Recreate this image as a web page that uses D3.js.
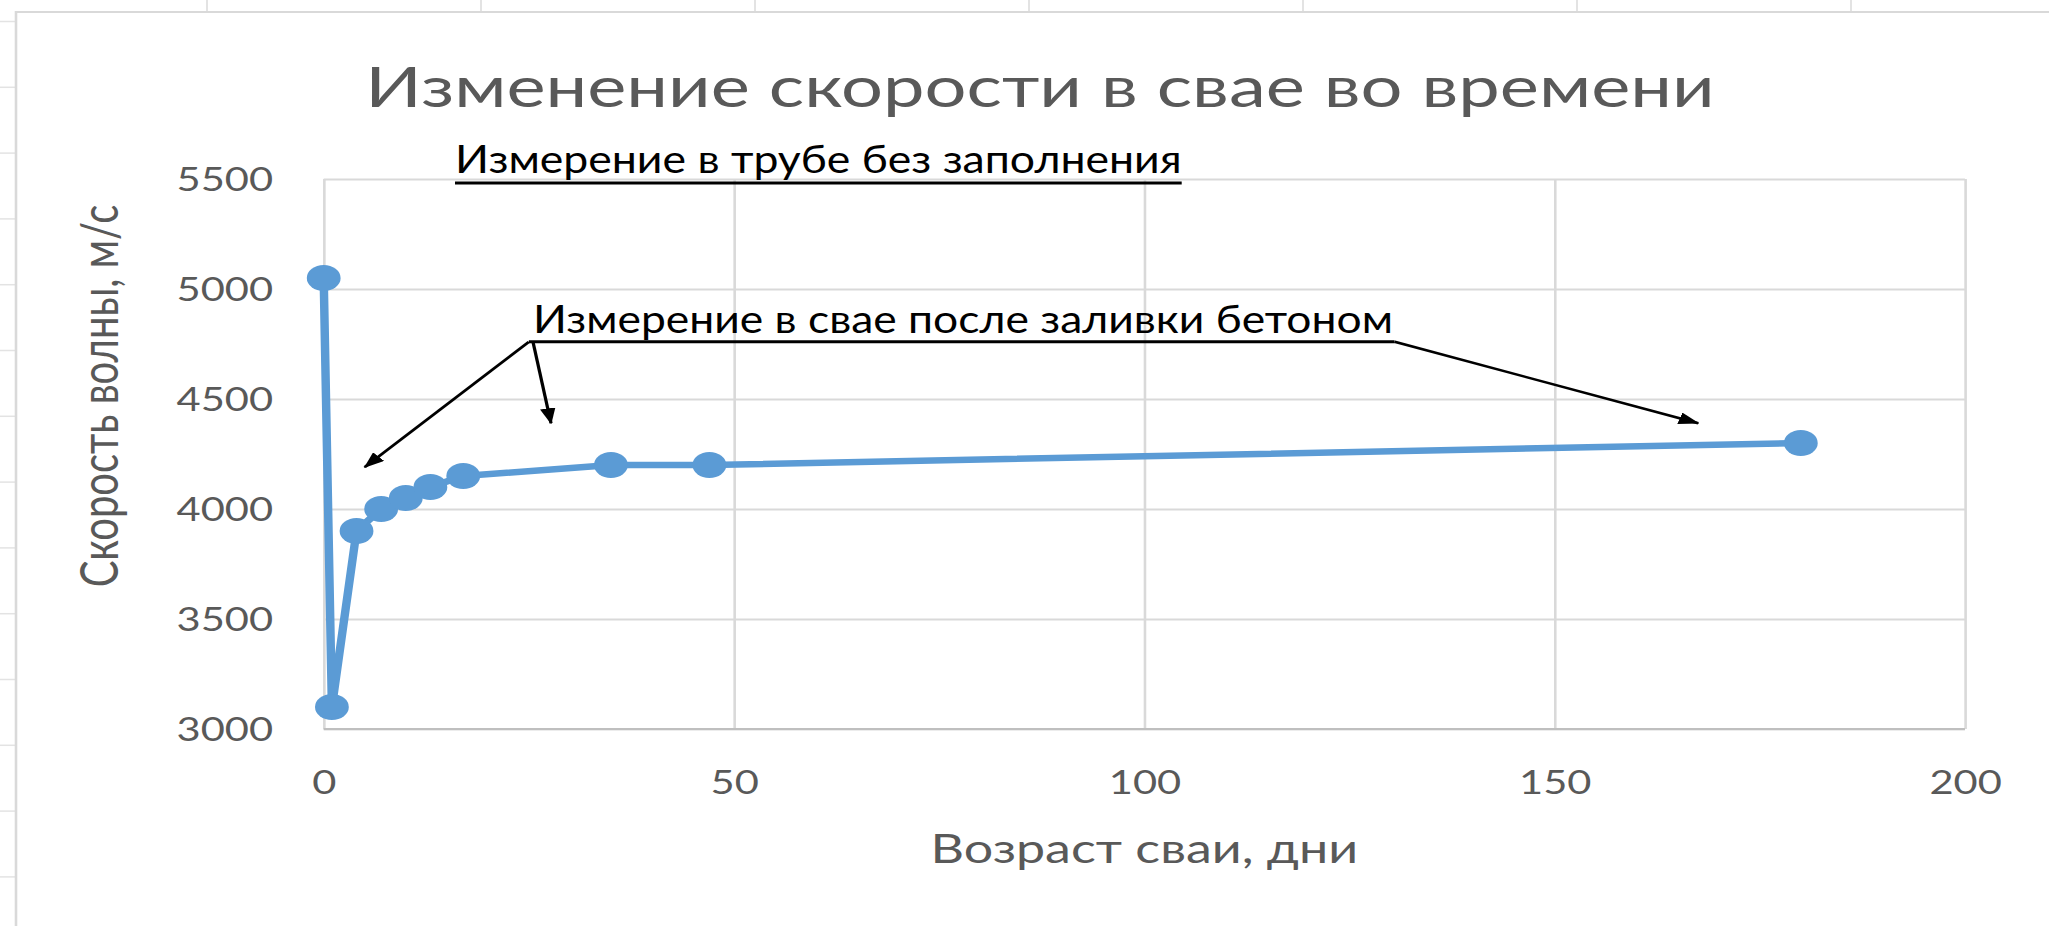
<!DOCTYPE html>
<html>
<head>
<meta charset="utf-8">
<script src="https://cdn.jsdelivr.net/npm/d3@7"></script>
<style>
  html, body { margin: 0; padding: 0; background: #fff; overflow: hidden; }
  svg { display: block; font-family: Lato, "Open Sans", sans-serif; }
</style>
</head>
<body>
<script>
'use strict';

// pile age (days) and wave speed (m/s)
const days = [0, 1, 4, 7, 10, 13, 17, 35, 47, 180];
const speeds = [5050, 3100, 3900, 4000, 4050, 4100, 4150, 4200, 4200, 4300];

const xTicks = [0, 50, 100, 150, 200];
const yTicks = [3000, 3500, 4000, 4500, 5000, 5500];

const chartTitle = 'Изменение скорости в свае во времени';
const xTitle = 'Возраст сваи, дни';
const yTitle = 'Скорость волны, м/с';
const noteTube = 'Измерение в трубе без заполнения';
const notePile = 'Измерение в свае после заливки бетоном';

// arrow starts / ends for the second note, in data units (day, m/s)
const arrowFrom = [[25, 4760], [25.5, 4760], [130.5, 4760]];
const arrowTo = [[5, 4190], [27.7, 4390], [167.5, 4390]];

(function () {
  const W = 2049, H = 926;
  const stretch = 1.3;            // the source picture is stretched sideways
  const VW = W / stretch;

  const plot = { left: 249, right: 1511.5, top: 179, bottom: 729 };
  const blue = '#5B9BD5';
  const grid = '#d9d9d9';
  const grey = '#595959';

  const svg = d3.select('body').append('svg')
    .attr('width', W)
    .attr('height', H)
    .attr('viewBox', `0 0 ${VW} ${H}`)
    .attr('preserveAspectRatio', 'none');

  // spreadsheet cells peeking out round the chart
  const cellX = d3.range(207, W, 274).map(v => v / stretch);
  svg.selectAll('.colLine').data(cellX).enter().append('line')
    .attr('x1', d => d).attr('x2', d => d)
    .attr('y1', 0).attr('y2', 12)
    .attr('stroke', '#e3e3e3').attr('stroke-width', 1.5);
  const cellY = d3.range(21.5, H, 65.8);
  svg.selectAll('.rowLine').data(cellY).enter().append('line')
    .attr('x1', 0).attr('x2', 12)
    .attr('y1', d => d).attr('y2', d => d)
    .attr('stroke', '#e3e3e3').attr('stroke-width', 1.5);

  // chart area border (runs off the right and bottom)
  svg.append('path')
    .attr('d', `M${16 / stretch},${H} V12 H${VW}`)
    .attr('fill', 'none')
    .attr('stroke', grid)
    .attr('stroke-width', 2);

  const x = d3.scaleLinear().domain([0, 200]).range([plot.left, plot.right]);
  const y = d3.scaleLinear().domain([3000, 5500]).range([plot.bottom, plot.top]);

  // y axis + horizontal gridlines
  const yAxis = d3.axisLeft(y)
    .tickValues(yTicks)
    .tickFormat(d3.format('d'))
    .tickSize(-(plot.right - plot.left))
    .tickPadding(39);
  const gy = svg.append('g')
    .attr('transform', `translate(${plot.left},0)`)
    .call(yAxis);
  gy.select('.domain').remove();
  gy.selectAll('line').attr('stroke', grid).attr('stroke-width', 2);
  gy.selectAll('text')
    .attr('fill', grey)
    .attr('dy', '0.36em')
    .style('font-size', '32px')
    .style('font-family', 'Lato, sans-serif');

  // x axis + vertical gridlines
  const xAxis = d3.axisBottom(x)
    .tickValues(xTicks)
    .tickFormat(d3.format('d'))
    .tickSize(-(plot.bottom - plot.top))
    .tickPadding(0);
  const gx = svg.append('g')
    .attr('transform', `translate(0,${plot.bottom})`)
    .call(xAxis);
  gx.select('.domain').remove();
  gx.selectAll('line').attr('stroke', grid).attr('stroke-width', 2);
  gx.selectAll('text')
    .attr('fill', grey)
    .attr('y', 65)
    .attr('dy', 0)
    .style('font-size', '32px')
    .style('font-family', 'Lato, sans-serif');

  // bottom axis line
  svg.append('line')
    .attr('x1', plot.left).attr('x2', plot.right)
    .attr('y1', plot.bottom).attr('y2', plot.bottom)
    .attr('stroke', '#bfbfbf').attr('stroke-width', 2);

  // series
  const rows = days.map((d, i) => ({ day: d, speed: speeds[i] }));
  const line = d3.line()
    .x(d => x(d.day))
    .y(d => y(d.speed));

  svg.append('path')
    .datum(rows)
    .attr('d', line)
    .attr('fill', 'none')
    .attr('stroke', blue)
    .attr('stroke-width', 6.5)
    .attr('stroke-linejoin', 'round');

  svg.selectAll('.dot')
    .data(rows)
    .enter()
    .append('circle')
    .attr('class', 'dot')
    .attr('cx', d => x(d.day))
    .attr('cy', d => y(d.speed))
    .attr('r', 13)
    .attr('fill', blue);

  // titles
  svg.append('text')
    .attr('x', 800)
    .attr('y', 107)
    .attr('text-anchor', 'middle')
    .attr('fill', grey)
    .style('font-size', '57px')
    .text(chartTitle);

  svg.append('text')
    .attr('x', (plot.left + plot.right) / 2)
    .attr('y', 863)
    .attr('text-anchor', 'middle')
    .attr('fill', grey)
    .style('font-size', '40px')
    .text(xTitle);

  svg.append('text')
    .attr('transform', `translate(${118 / stretch},396)rotate(-90)`)
    .attr('text-anchor', 'middle')
    .attr('fill', grey)
    .style('font-size', '40px')
    .text(yTitle);

  // note 1: underlined text over the plot
  const t1x = 350, t1w = 559;
  svg.append('text')
    .attr('x', t1x)
    .attr('y', 173)
    .attr('fill', '#000')
    .attr('textLength', t1w)
    .attr('lengthAdjust', 'spacingAndGlyphs')
    .style('font-size', '38px')
    .text(noteTube);
  svg.append('line')
    .attr('x1', t1x).attr('x2', t1x + t1w)
    .attr('y1', 183).attr('y2', 183)
    .attr('stroke', '#000').attr('stroke-width', 3);

  // note 2: text sitting on a line with three arrows
  const t2x = x(25.5);
  svg.append('text')
    .attr('x', t2x)
    .attr('y', y(4800))
    .attr('fill', '#000')
    .attr('textLength', x(130.3) - t2x)
    .attr('lengthAdjust', 'spacingAndGlyphs')
    .style('font-size', '39px')
    .text(notePile);

  svg.append('defs').append('marker')
    .attr('id', 'head')
    .attr('markerUnits', 'userSpaceOnUse')
    .attr('markerWidth', 16)
    .attr('markerHeight', 12)
    .attr('refX', 15)
    .attr('refY', 6)
    .attr('orient', 'auto')
    .append('path')
    .attr('d', 'M0,0 L16,6 L0,12 Z')
    .attr('fill', '#000');

  svg.append('line')
    .attr('x1', x(arrowFrom[0][0])).attr('y1', y(arrowFrom[0][1]))
    .attr('x2', x(arrowFrom[2][0])).attr('y2', y(arrowFrom[2][1]))
    .attr('stroke', '#000').attr('stroke-width', 3);

  svg.selectAll('.arrow')
    .data(arrowFrom)
    .enter()
    .append('line')
    .attr('class', 'arrow')
    .attr('x1', d => x(d[0]))
    .attr('y1', d => y(d[1]))
    .attr('x2', (d, i) => x(arrowTo[i][0]))
    .attr('y2', (d, i) => y(arrowTo[i][1]))
    .attr('stroke', '#000')
    .attr('stroke-width', 2.5)
    .attr('marker-end', 'url(#head)');
})();
</script>
</body>
</html>
